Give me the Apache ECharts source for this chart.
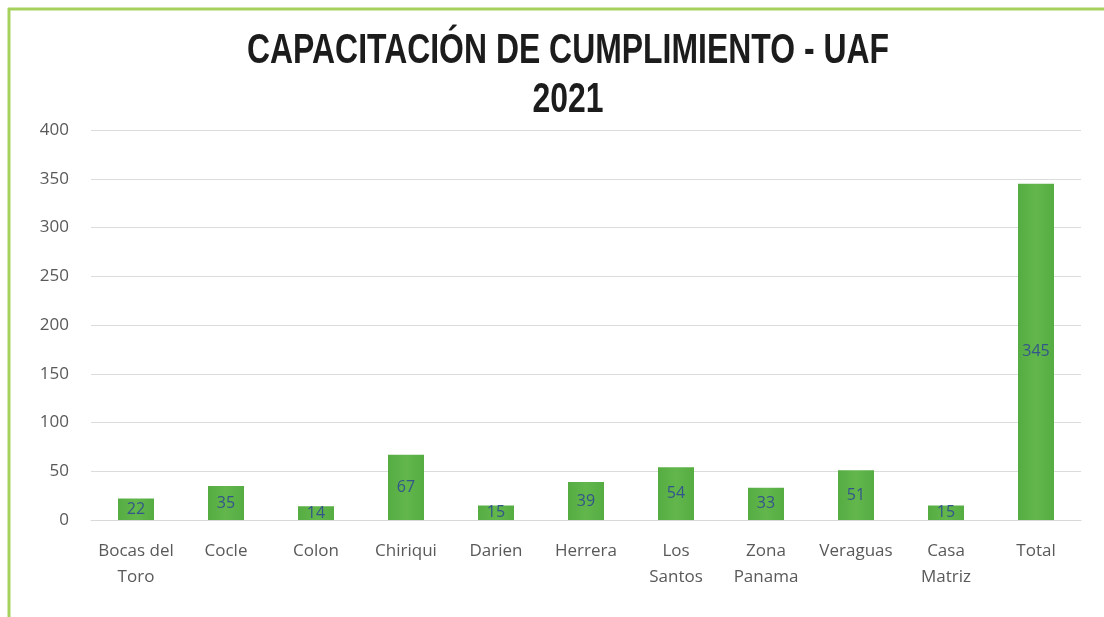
<!DOCTYPE html>
<html>
<head>
<meta charset="utf-8">
<script src="https://cdn.jsdelivr.net/npm/echarts@6/dist/echarts.min.js"></script>
<style>
  html, body { margin: 0; padding: 0; background: #ffffff; }
  #chart { width: 1104px; height: 617px; }
</style>
</head>
<body>
<div id="chart"></div>
<script>
// Training sessions per region, 2021
const categories = ['Bocas del\nToro', 'Cocle', 'Colon', 'Chiriqui', 'Darien', 'Herrera',
                    'Los\nSantos', 'Zona\nPanama', 'Veraguas', 'Casa\nMatriz', 'Total'];
const values = [22, 35, 14, 67, 15, 39, 54, 33, 51, 15, 345];
const yTicks = [0, 50, 100, 150, 200, 250, 300, 350, 400];
const titleLines = ['CAPACITACIÓN DE CUMPLIMIENTO - UAF', '2021'];

// Condensed bold heading: horizontally squeeze a regular bold face
const titleFont = 'bold 43px "Liberation Sans", Arial, sans-serif';
const ctx = document.createElement('canvas').getContext('2d');
ctx.font = titleFont;
const titleScale = 642 / ctx.measureText(titleLines[0]).width;

const titleGraphic = titleLines.map((line, i) => ({
  type: 'text',
  x: 568,
  y: 51.5 + i * 49,
  scaleX: titleScale,
  style: {
    text: line,
    font: titleFont,
    fill: '#1c1c1c',
    align: 'center',
    verticalAlign: 'middle'
  }
}));

const tickFont = '"Open Sans", "Noto Sans", sans-serif';

const chart = echarts.init(document.getElementById('chart'));
chart.setOption({
  backgroundColor: '#ffffff',
  animation: false,
  graphic: [
    { type: 'line', shape: { x1: 8, y1: 9, x2: 1104, y2: 9 }, style: { stroke: '#a5d15c', lineWidth: 3 } },
    { type: 'line', shape: { x1: 9, y1: 8, x2: 9, y2: 617 }, style: { stroke: '#a5d15c', lineWidth: 3 } }
  ].concat(titleGraphic),
  grid: { left: 91, right: 23, top: 130, bottom: 97, containLabel: false },
  xAxis: {
    type: 'category',
    data: categories,
    axisLine: { show: true, lineStyle: { color: '#d9d9d9', width: 1 } },
    axisTick: { show: false },
    axisLabel: {
      interval: 0,
      margin: 18,
      color: '#595959',
      fontFamily: tickFont,
      fontSize: 17,
      lineHeight: 26,
      verticalAlign: 'top'
    }
  },
  yAxis: {
    type: 'value',
    min: yTicks[0],
    max: yTicks[yTicks.length - 1],
    interval: 50,
    axisLine: { show: false },
    axisTick: { show: false },
    splitLine: { lineStyle: { color: '#dcdcdc', width: 1 } },
    axisLabel: {
      margin: 22,
      color: '#595959',
      fontFamily: tickFont,
      fontSize: 17
    }
  },
  series: [{
    type: 'bar',
    data: values,
    barWidth: '40%',
    itemStyle: {
      color: {
        type: 'linear', x: 0, y: 0, x2: 1, y2: 0,
        colorStops: [
          { offset: 0, color: '#55ad42' },
          { offset: 0.5, color: '#62b64c' },
          { offset: 1, color: '#55ad42' }
        ]
      }
    },
    label: {
      show: true,
      position: 'inside',
      color: '#34558a',
      fontFamily: tickFont,
      fontSize: 16
    }
  }]
});
</script>
</body>
</html>
